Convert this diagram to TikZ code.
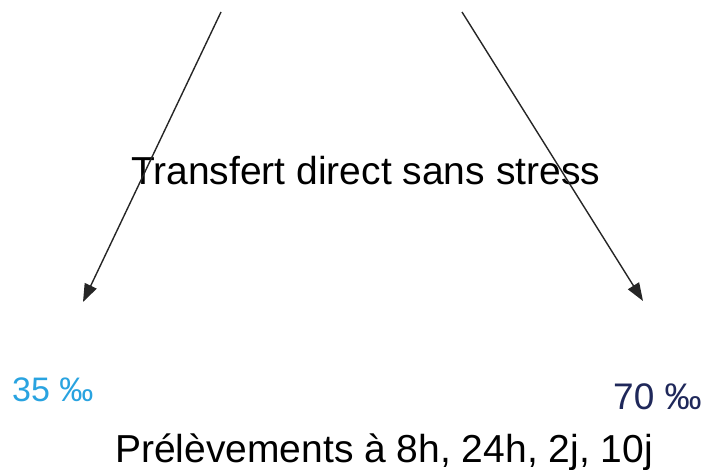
\documentclass[tikz,border=0pt]{standalone}
\usepackage{fontspec}
\setmainfont{Liberation Sans}
\usetikzlibrary{arrows.meta}
\definecolor{lightblue}{RGB}{41,163,224}
\definecolor{navy}{RGB}{31,40,90}
\tikzset{
  flow/.style={draw=black!85, line width=1.4pt, -{Triangle[length=18pt,width=13pt]}},
  bigtext/.style={inner sep=0pt, anchor=base west, font=\fontsize{39}{47}\selectfont},
  salttext/.style={inner sep=0pt, anchor=base west}
}
\begin{document}
\begin{tikzpicture}[x=1pt,y=-1pt]
  \useasboundingbox (0,0) rectangle (717,470);
  % arrow ends
  \coordinate (lstart) at (221,12);
  \coordinate (ltip) at (83,302);
  \coordinate (rstart) at (462,12);
  \coordinate (rtip) at (643,301);
  % labels
  \node[bigtext] (transfer) at (131,185) {Transfert direct sans stress};
  \node[salttext, text=lightblue, font=\fontsize{34}{40}\selectfont] (low) at (12,401) {35 ‰};
  \node[salttext, text=navy, font=\fontsize{37}{44}\selectfont] (high) at (613,409) {70 ‰};
  \node[bigtext] (samples) at (115,462) {Prélèvements à 8h, 24h, 2j, 10j};
  % arrows
  \draw[flow] (lstart) -- (ltip);
  \draw[flow] (rstart) -- (rtip);
\end{tikzpicture}
\end{document}
